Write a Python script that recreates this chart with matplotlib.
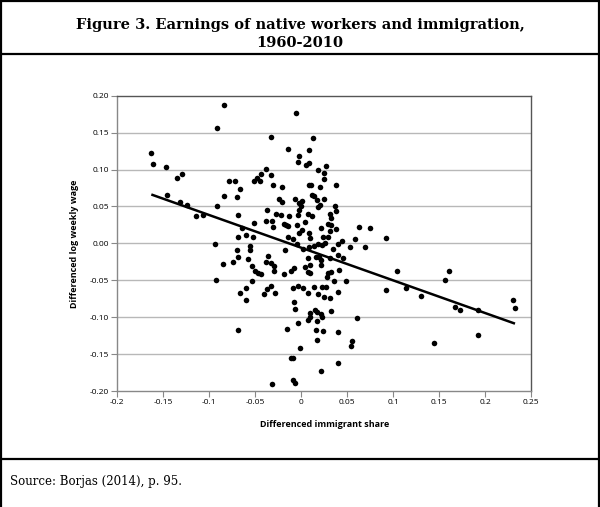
import numpy as np
import matplotlib
matplotlib.use("Agg")
import matplotlib.pyplot as plt
from matplotlib.lines import Line2D

title_lines = ["Figure 3. Earnings of native workers and immigration,", "1960-2010"]
source_text = "Source: Borjas (2014), p. 95."
x_label = "Differenced immigrant share"
y_label = "Differenced log weekly wage"
x_ticks = [-0.2, -0.15, -0.1, -0.05, 0, 0.05, 0.1, 0.15, 0.2, 0.25]
x_tick_labels = ["-0.2", "-0.15", "-0.1", "-0.05", "0", "0.05", "0.1", "0.15", "0.2", "0.25"]
y_ticks = [-0.20, -0.15, -0.10, -0.05, 0.00, 0.05, 0.10, 0.15, 0.20]
y_tick_labels = ["-0.20", "-0.15", "-0.10", "-0.05", "0.00", "0.05", "0.10", "0.15", "0.20"]

immigrant_share = [
    -0.0837, -0.0913, -0.163, -0.161, -0.147, -0.135, -0.130, -0.079, -0.0837, -0.1457,
    -0.132, -0.124, -0.114, -0.1065, -0.0917, -0.0935, -0.0855, -0.0928,
    -0.0058, -0.033, -0.0148, -0.0025, -0.0033, -0.0384, -0.044, -0.033, -0.0717, -0.051,
    -0.0478, -0.0449, -0.0308, -0.0206, -0.0663, -0.0702, -0.0239, -0.0206, -0.0072, -0.0025,
    -0.037, -0.0685, -0.0272, -0.022, -0.013, -0.0036, -0.0384, -0.0322, -0.0191, -0.0166,
    -0.0141, -0.051, -0.0304, -0.004, -0.0645, -0.0685, -0.0598, -0.0525, -0.0141, -0.0087,
    -0.004,
    0.013, 0.0084, 0.0084, 0.0048, 0.0185, 0.0265, 0.0243, 0.025, 0.0084, 0.0105,
    0.0207, 0.0377, 0.0113, 0.0135, 0.0167, 0.025, 0.0004, -0.0003, 0.0178, 0.0207,
    0.0366, 0.0377, -0.0025, 0.007, 0.0113, 0.0309, 0.0323, 0.004, 0.0293, 0.0323,
    0.038, 0.0214, 0.0309, -0.0025, 0.0011, 0.0084, 0.0236, 0.0293, 0.0091, 0.0439,
    0.0584, 0.0624, 0.0754, 0.0924, 0.040,
    -0.0699, -0.0685, -0.0739, -0.0554, -0.0554, -0.0576, -0.0533, -0.0503, -0.0467, -0.0438,
    -0.0359, -0.0387, -0.033, -0.0293, -0.0293, -0.0177, -0.0185, -0.0112, -0.0076, -0.0533,
    -0.0598, -0.0663, -0.0598, -0.0402, -0.037, -0.033, -0.0286, -0.0087, -0.0039, -0.0076,
    -0.0068, -0.0691, -0.0159, -0.0039, -0.0112, -0.0087, -0.0315, -0.0087, -0.0068,
    0.0022, 0.0084, 0.0141, 0.0185, 0.0228, 0.0258, 0.0348, 0.0533, 0.0692, 0.0076,
    0.0157, 0.0192, 0.0214, 0.0312, 0.0396, 0.0457, 0.004, 0.0095, 0.0214, 0.0076,
    0.0095, 0.0293, 0.0323, 0.0413, 0.0276, 0.0359, 0.0489, 0.0022, 0.0141, 0.0232,
    0.0265, 0.007, 0.0178, 0.0402, 0.025, 0.0312, 0.0924, 0.0098, 0.0091, 0.0149,
    0.0174, 0.0221, 0.0228, 0.0323, 0.0076, 0.0167, 0.0605, 0.0157, 0.0239, 0.0402,
    0.0174, 0.0548, 0.054, -0.0011, 0.0396, 0.0214,
    0.1043, 0.1141, 0.1304, 0.1446, 0.1565, 0.1609, 0.1674, 0.1728, 0.1924, 0.1924,
    0.2304, 0.2326,
]
log_wage = [
    0.188, 0.156, 0.122, 0.107, 0.103, 0.088, 0.094, 0.085, 0.064, 0.066,
    0.056, 0.052, 0.037, 0.039, 0.050, -0.001, -0.028, -0.050,
    0.177, 0.144, 0.128, 0.118, 0.110, 0.1006, 0.094, 0.0925, 0.084, 0.0848,
    0.088, 0.0848, 0.079, 0.0767, 0.0735, 0.0627, 0.060, 0.0564, 0.060, 0.055,
    0.045, 0.038, 0.040, 0.038, 0.0374, 0.039, 0.0306, 0.0306, 0.0266, 0.0243,
    0.0234, 0.028, 0.0225, 0.0252, 0.0207, 0.008, 0.0112, 0.0085, 0.008, 0.0054,
    -0.001,
    0.1426, 0.1263, 0.1083, 0.1056, 0.0993, 0.1047, 0.0956, 0.0867, 0.0794, 0.0794,
    0.0767, 0.0785, 0.065, 0.064, 0.0586, 0.0604, 0.0577, 0.0505, 0.0496, 0.0523,
    0.0505, 0.0433, 0.045, 0.0397, 0.037, 0.0397, 0.0338, 0.0293, 0.0261, 0.0248,
    0.0198, 0.0207, 0.0162, 0.0144, 0.018, 0.0135, 0.009, 0.008, 0.0072, 0.0035,
    0.0062, 0.022, 0.0211, 0.0076, -0.001,
    -0.0091, -0.0181, -0.0257, -0.0037, -0.0091, -0.0213, -0.0307, -0.0375, -0.0398, -0.0416,
    -0.0172, -0.0257, -0.0271, -0.0307, -0.0375, -0.0091, -0.0416, -0.0375, -0.0339, -0.051,
    -0.060, -0.0669, -0.0768, -0.069, -0.0623, -0.0578, -0.0677, -0.061, -0.0578, -0.0795,
    -0.0894, -0.1174, -0.1165, -0.1075, -0.155, -0.1557, -0.1905, -0.185, -0.1888,
    -0.0081, -0.0054, -0.0037, -0.001, -0.0023, 0.0008, -0.0081, -0.0054, -0.0046, -0.0203,
    -0.0181, -0.019, -0.0226, -0.0203, -0.0158, -0.0203, -0.0317, -0.0294, -0.0294, -0.0384,
    -0.0406, -0.0398, -0.0389, -0.0361, -0.046, -0.0506, -0.0506, -0.061, -0.0596, -0.0587,
    -0.0596, -0.0677, -0.0687, -0.0664, -0.0731, -0.0745, -0.0632, -0.0948, -0.0993, -0.0903,
    -0.0926, -0.0957, -0.1002, -0.0912, -0.1039, -0.1048, -0.1016, -0.1174, -0.1183, -0.1197,
    -0.131, -0.1319, -0.139, -0.1422, -0.1617, -0.173,
    -0.0375, -0.0601, -0.0709, -0.1345, -0.0501, -0.0375, -0.0862, -0.0903, -0.0903, -0.1242,
    -0.0772, -0.088,
]

W, H = 600, 507
fig = plt.figure(figsize=(W / 100, H / 100), dpi=100)
fig.patch.set_facecolor("white")

def fx(px):
    return px / W

def fy(py):
    return 1 - py / H

ax = fig.add_axes([fx(117.3), fy(391), fx(531) - fx(117.3), fy(95.7) - fy(391)])

x = np.array(immigrant_share)
y = np.array(log_wage)

for yt in y_ticks[1:-1]:
    ax.axhline(yt, color="#b8b8b8", lw=1.0, zorder=0)

ax.scatter(x, y, s=16, color="black", zorder=3, linewidths=0)

coef = np.polyfit(x, y, 1)
xl = np.array([x.min(), x.max()])
ax.plot(xl, np.polyval(coef, xl), color="black", lw=1.8, zorder=4, solid_capstyle="butt")

ax.set_xlim(-0.2, 0.25)
ax.set_ylim(-0.2, 0.2)
ax.set_xticks(x_ticks)
ax.set_xticklabels(x_tick_labels)
ax.set_yticks(y_ticks)
ax.set_yticklabels(y_tick_labels)

for lab in ax.get_xticklabels() + ax.get_yticklabels():
    lab.set_fontfamily("Open Sans")
    lab.set_fontsize(6)
ax.tick_params(axis="both", direction="out", length=4, width=0.8, color="#888888", pad=2)
for side in ["left", "bottom"]:
    ax.spines[side].set_color("#888888")
    ax.spines[side].set_linewidth(1.0)
for side in ["top", "right"]:
    ax.spines[side].set_color("#555555")
    ax.spines[side].set_linewidth(1.0)

ax.set_xlabel(x_label, fontfamily="Open Sans", fontweight="bold", fontsize=6.5, labelpad=10)
ax.set_ylabel(y_label, fontfamily="Open Sans", fontweight="bold", fontsize=6.5, labelpad=8)

# frame lines
lw_frame = 1.6
fig.add_artist(Line2D([fx(1), fx(599)], [fy(1), fy(1)], color="black", lw=lw_frame))
fig.add_artist(Line2D([fx(1), fx(599)], [fy(54), fy(54)], color="black", lw=lw_frame))
fig.add_artist(Line2D([fx(1), fx(599)], [fy(459), fy(459)], color="black", lw=lw_frame))
fig.add_artist(Line2D([fx(1), fx(1)], [fy(1), fy(506)], color="black", lw=lw_frame))
fig.add_artist(Line2D([fx(599), fx(599)], [fy(1), fy(506)], color="black", lw=lw_frame))

fig.text(0.5, fy(25), title_lines[0], ha="center", va="center", fontsize=10.5,
         fontweight="bold", family="DejaVu Serif")
fig.text(0.5, fy(43), title_lines[1], ha="center", va="center", fontsize=10.5,
         fontweight="bold", family="DejaVu Serif")
fig.text(fx(10), fy(482), source_text, ha="left", va="center", fontsize=8.5,
         family="DejaVu Serif")

fig.savefig("out.png", dpi=100, facecolor="white")
